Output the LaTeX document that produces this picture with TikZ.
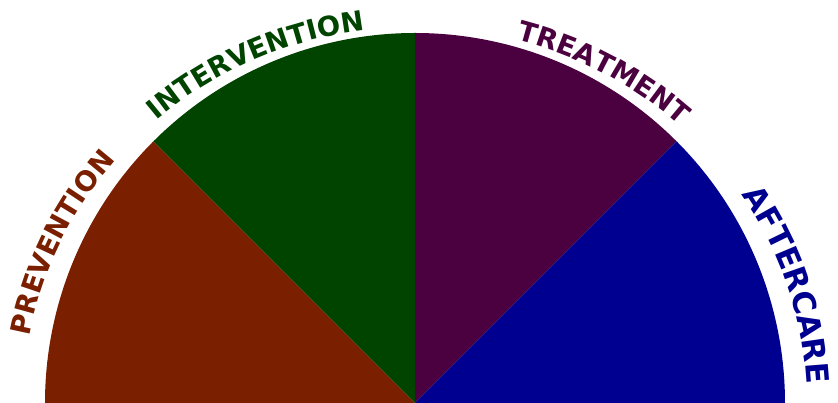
\documentclass[tikz,border=0pt]{standalone}
\usepackage{fontspec}
\usepackage{pdfrender}
\setsansfont{DejaVu Sans}
\usetikzlibrary{decorations.text}

\definecolor{prevcol}{HTML}{7A1F00}
\definecolor{intercol}{HTML}{004400}
\definecolor{treatcol}{HTML}{4B003F}
\definecolor{aftercol}{HTML}{000090}

\newcommand{\arclabelfont}[1][27.5]{\fontsize{#1}{32}\selectfont\sffamily\bfseries
  \pdfrender{TextRenderingMode=2, LineWidth=1.0}}

\tikzset{
  arclabel/.style={decorate, decoration={text along path, text align=center,
      text color=#1}}
}

\begin{document}
\begin{tikzpicture}[x=1pt, y=1pt]
    \useasboundingbox (-415,0) rectangle (423,403);

    \coordinate (O) at (0,0);

    % the four sectors
    \fill[prevcol]  (O) -- (180:370) arc[start angle=180, end angle=135, radius=370] -- cycle;
    \fill[intercol] (O) -- (135:370) arc[start angle=135, end angle=90,  radius=370] -- cycle;
    \fill[treatcol] (O) -- (90:370)  arc[start angle=90,  end angle=45,  radius=370] -- cycle;
    \fill[aftercol] (O) -- (45:370)  arc[start angle=45,  end angle=0,   radius=370] -- cycle;

    % labels round the rim (a slightly wider ellipse)
    \path[arclabel=prevcol, decoration={text={|\arclabelfont|PREVENTION}}]
      (O) ++(190:392 and 376) arc[start angle=190, end angle=120, x radius=392, y radius=376];
    \path[arclabel=intercol, decoration={text={|\arclabelfont|INTERVENTION}}]
      (O) ++(149.5:392 and 376) arc[start angle=149.5, end angle=79.5, x radius=392, y radius=376];
    \path[arclabel=treatcol, decoration={text={|\arclabelfont|TREATMENT}}]
      (O) ++(96:392 and 376) arc[start angle=96, end angle=26, x radius=392, y radius=376];
    \path[arclabel=aftercol, decoration={text={|\arclabelfont[31]|AFTERCARE}}]
      (O) ++(55:392 and 376) arc[start angle=55, end angle=-19, x radius=392, y radius=376];
  \end{tikzpicture}
\end{document}
